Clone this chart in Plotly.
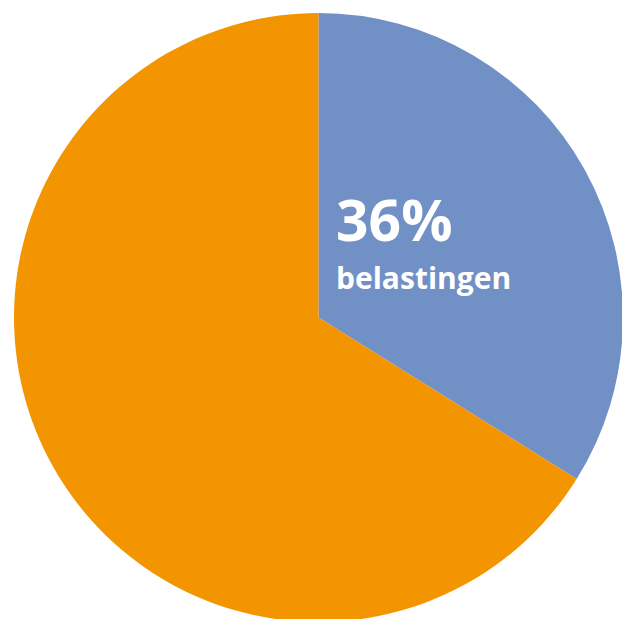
import plotly.graph_objects as go

labels = ["belastingen", "overig"]
values = [33.9, 66.1]
colors = ["#7190C6", "#F39500"]
pct_text = "36%"
label_text = "belastingen"

W, H = 640, 640

def px_x(x):
    return x / W

def px_y(y):
    return 1 - y / H

left, top, d = 14, 13, 609

fig = go.Figure(go.Pie(
    labels=labels, values=values, sort=False, direction="clockwise", rotation=0,
    marker=dict(colors=colors, line=dict(width=0)),
    textinfo="none", hoverinfo="skip", showlegend=False,
    domain=dict(x=[px_x(left), px_x(left + d)], y=[px_y(top + d), px_y(top)]),
))

fig.add_annotation(x=px_x(334), y=px_y(219), xref="paper", yref="paper",
                   text="<b>" + pct_text + "</b>", showarrow=False,
                   xanchor="left", yanchor="middle",
                   font=dict(family="Open Sans", size=57, color="white"))
fig.add_annotation(x=px_x(334), y=px_y(277), xref="paper", yref="paper",
                   text="<b>" + label_text + "</b>", showarrow=False,
                   xanchor="left", yanchor="middle",
                   font=dict(family="Open Sans", size=30, color="white"))

fig.update_layout(width=W, height=H, margin=dict(l=0, r=0, t=0, b=0),
                  paper_bgcolor="white", plot_bgcolor="white")
fig.write_html("out.html", config={"displayModeBar": False},
               post_script="document.body.style.margin='0';document.body.style.overflow='hidden';")
